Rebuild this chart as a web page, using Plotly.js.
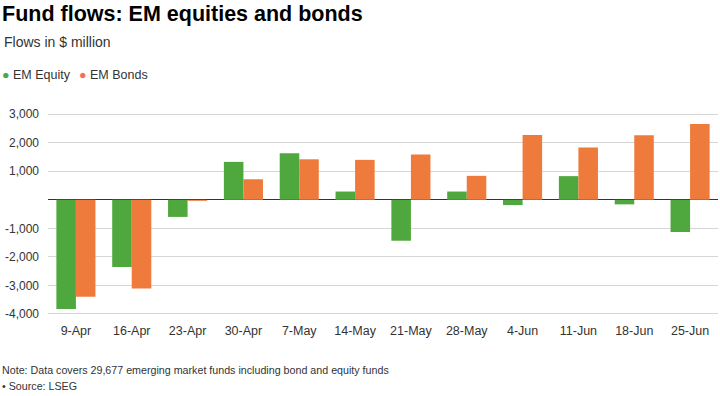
<!DOCTYPE html>
<html>
<head>
<meta charset="utf-8">
<script src="https://cdn.plot.ly/plotly-3.0.1.min.js"></script>
<style>html,body{margin:0;padding:0;background:#fff;}#chart{width:720px;height:396px;}</style>
</head>
<body>
<div id="chart"></div>
<script>
const weeks = ["9-Apr","16-Apr","23-Apr","30-Apr","7-May","14-May","21-May","28-May","4-Jun","11-Jun","18-Jun","25-Jun"];
const emEquity = [-3830,-2360,-600,1330,1630,290,-1435,290,-185,830,-160,-1130];
const emBonds = [-3400,-3110,-35,720,1420,1400,1590,840,2275,1830,2265,2660];
const yTickVals = [-4000,-3000,-2000,-1000,0,1000,2000,3000];
const yTickText = ["-4,000","-3,000","-2,000","-1,000","","1,000","2,000","3,000"];

const green = "#4fa83d";
const orange = "#ee7a3c";
const font = "Liberation Sans, Arial, Helvetica, sans-serif";

const traces = [
  {type:"bar", name:"EM Equity", x:weeks, y:emEquity, marker:{color:green}, showlegend:false, hoverinfo:"x+y"},
  {type:"bar", name:"EM Bonds", x:weeks, y:emBonds, marker:{color:orange}, showlegend:false, hoverinfo:"x+y"}
];

const L = 48, R = 2, W = 720 - L - R;
const px = v => (v - L) / W;

const layout = {
  width:720, height:396,
  margin:{l:L, r:R, t:100, b:75},
  paper_bgcolor:"#fff", plot_bgcolor:"#fff",
  font:{family:font, color:"#333", size:12},
  barmode:"group", bargap:0.3, bargroupgap:0,
  title:{text:"<b>Fund flows: EM equities and bonds</b>", x:2/720, xref:"container", xanchor:"left",
         y:1 - 13/396, yref:"container", yanchor:"middle",
         font:{family:font, size:21.5, color:"#000"}},
  xaxis:{type:"category", showgrid:false, zeroline:false, showline:false, ticks:"",
         tickfont:{family:font, size:12.5, color:"#333"}, fixedrange:true},
  yaxis:{range:[-4250,3500], tickvals:yTickVals, ticktext:yTickText, showgrid:true,
         gridcolor:"#d6d6d6", gridwidth:1, zeroline:true, zerolinecolor:"#333", zerolinewidth:1,
         showline:false, ticks:"", ticklabelstandoff:8,
         tickfont:{family:font, size:12, color:"#333"}, fixedrange:true},
  annotations:[
    {text:"Flows in $ million", xref:"paper", yref:"paper", x:px(2), y:1 + (100-42)/221, xanchor:"left", yanchor:"middle", showarrow:false, font:{family:font, size:14, color:"#333"}},
    {text:'<span style="color:'+green+'">●</span> EM Equity', xref:"paper", yref:"paper", x:px(0), y:1 + (100-75)/221, xanchor:"left", yanchor:"middle", showarrow:false, font:{family:font, size:12.5, color:"#333"}},
    {text:'<span style="color:#ec7356">●</span> EM Bonds', xref:"paper", yref:"paper", x:px(77), y:1 + (100-75)/221, xanchor:"left", yanchor:"middle", showarrow:false, font:{family:font, size:12.5, color:"#333"}},
    {text:"Note: Data covers 29,677 emerging market funds including bond and equity funds", xref:"paper", yref:"paper", x:px(0), y:-(370-321)/221, xanchor:"left", yanchor:"middle", showarrow:false, font:{family:font, size:10.7, color:"#333"}},
    {text:"• Source: LSEG", xref:"paper", yref:"paper", x:px(0), y:-(386-321)/221, xanchor:"left", yanchor:"middle", showarrow:false, font:{family:font, size:10.7, color:"#333"}}
  ]
};

Plotly.newPlot("chart", traces, layout, {displayModeBar:false, staticPlot:true});
</script>
</body>
</html>
